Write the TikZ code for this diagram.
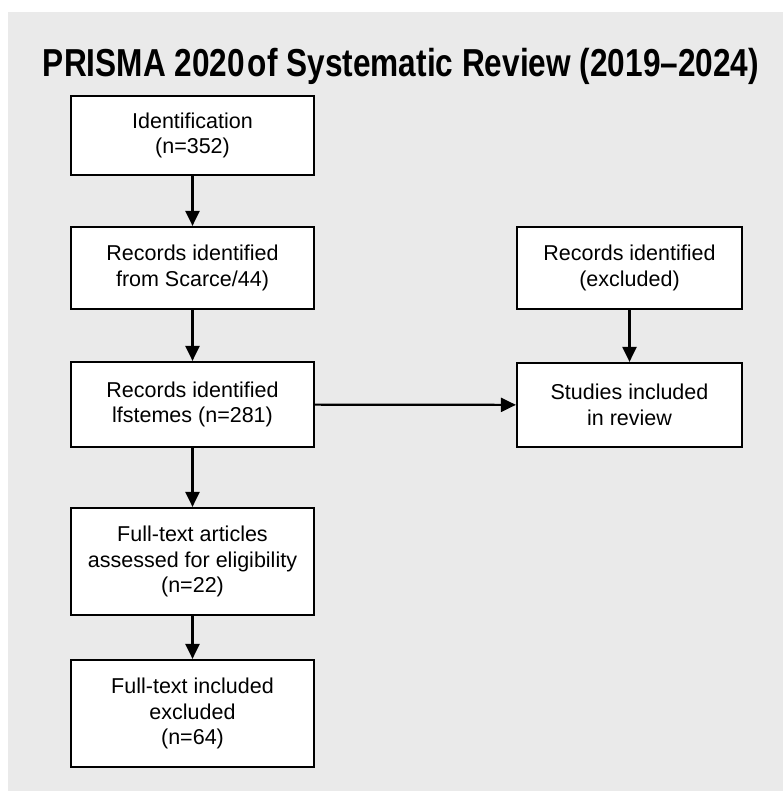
\documentclass[tikz,border=0pt]{standalone}
\usepackage{fontspec}
\setmainfont{Liberation Sans}
\newfontfamily\titlefont[FakeStretch=0.81]{Liberation Sans Bold}
\usetikzlibrary{arrows,arrows.meta}
\definecolor{bggray}{HTML}{EAEAEA}

\begin{document}
\begin{tikzpicture}[->,>={Triangle[length=15pt,width=14pt]},x=1pt,y=-1pt,line width=2.2pt,
  box node/.style={rectangle,draw,fill=white,align=center,inner sep=0pt,
    minimum width=243pt,font=\fontsize{21.5}{25.5}\selectfont},
  side node/.style={box node,minimum width=225pt}]
\useasboundingbox (0,0) rectangle (783,791);
\fill[bggray] (8,12) rectangle (783,791);

% title
  \node (title) at (401,66) {\titlefont\fontsize{39}{44}\selectfont PRISMA 2020\hspace{0.08em}of Systematic Review (2019–2024)};

% left column
  \node[box node,minimum height=79pt] (ident) at (192.5,135.5) {Identification\\(n=352)};
  \node[box node,minimum height=82pt] (source) at (192.5,268) {Records identified\\from Scarce/44)};
  \node[box node,minimum height=85pt] (screen) at (192.5,404.5) {Records identified\\lfstemes (n=281)};
  \node[box node,minimum height=107pt] (full) at (192.5,561.5) {Full-text articles\\assessed for eligibility\\(n=22)};
  \node[box node,minimum height=107pt] (excl) at (192.5,713.5) {Full-text included\\excluded\\(n=64)};

% right column
  \node[side node,minimum height=82pt] (recexcl) at (629.5,268) {Records identified\\(excluded)};
  \node[side node,minimum height=84pt] (incl) at (629.5,405) {Studies included\\in review};

  \path
    (ident) edge (source)
    (source) edge (screen)
    (screen) edge (full)
    (full) edge (excl)
    (recexcl) edge (incl)
    (screen) edge (incl);

\end{tikzpicture}
\end{document}
